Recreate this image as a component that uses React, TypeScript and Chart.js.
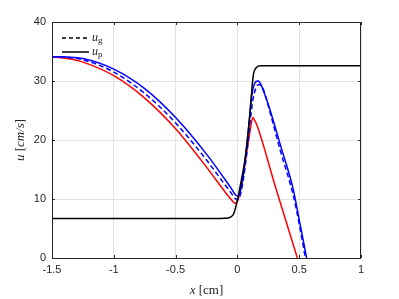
import React, { useEffect, useRef } from "react";
import { Chart, registerables } from "chart.js";
Chart.register(...registerables);

const xTicks = [-1.5, -1, -0.5, 0, 0.5, 1];
const yTicks = [0, 10, 20, 30, 40];

const redX = [-1.5, -1.375, -1.25, -1.0, -0.75, -0.5, -0.25, -0.1, -0.05, -0.02, 0.0, 0.04, 0.08, 0.11, 0.125, 0.14, 0.16, 0.3, 0.485];
const redY = [34.1, 33.8, 33.2, 30.9, 27.1, 21.9, 15.4, 11.2, 9.9, 9.3, 9.6, 13.2, 18.5, 22.5, 23.8, 23.3, 22.4, 12.6, 0];

const blueX = [-1.5, -1.375, -1.25, -1.0, -0.75, -0.5, -0.25, -0.1, -0.05, -0.02, 0.005, 0.02, 0.045, 0.075, 0.1, 0.115, 0.13, 0.15, 0.165, 0.18, 0.2, 0.25, 0.35, 0.45, 0.5, 0.56];
const blueY = [34.1, 34.05, 33.8, 32.0, 28.7, 23.8, 17.6, 13.3, 11.8, 10.8, 10.5, 11.0, 13.6, 18.9, 24.0, 27.3, 29.0, 29.9, 30.0, 29.8, 28.9, 26.0, 19.0, 11.8, 6.5, 0];

const dashX = [-1.5, -1.375, -1.25, -1.0, -0.75, -0.5, -0.25, -0.1, -0.05, -0.02, 0.005, 0.02, 0.05, 0.08, 0.105, 0.12, 0.135, 0.155, 0.175, 0.19, 0.21, 0.26, 0.35, 0.45, 0.5, 0.55];
const dashY = [34.1, 34.0, 33.6, 31.5, 27.9, 22.9, 16.6, 12.4, 11.0, 10.1, 9.9, 10.4, 13.6, 18.5, 23.5, 26.0, 27.8, 29.0, 29.4, 29.3, 28.6, 25.0, 18.0, 10.8, 5.8, 0];

const blackX = [-1.5, -0.3, -0.1, -0.06, -0.03, 0.0, 0.03, 0.06, 0.09, 0.115, 0.13, 0.15, 0.18, 0.25, 1.0];
const blackY = [6.7, 6.7, 6.75, 6.9, 7.5, 9.8, 13.0, 16.5, 22.0, 28.0, 31.2, 32.2, 32.6, 32.6, 32.6];

const legendLabels = ["g", "p"];

const pts = (xs: number[], ys: number[]) => xs.map((x, i) => ({ x, y: ys[i] }));

type Part = { text: string; font: string; dy?: number };

function drawRich(ctx: CanvasRenderingContext2D, parts: Part[], x: number, y: number, align: "left" | "center") {
  let total = 0;
  const widths = parts.map((p) => {
    ctx.font = p.font;
    const w = ctx.measureText(p.text).width;
    total += w;
    return w;
  });
  let cx = align === "center" ? x - total / 2 : x;
  parts.forEach((p, i) => {
    ctx.font = p.font;
    ctx.fillText(p.text, cx, y + (p.dy || 0));
    cx += widths[i];
  });
}

const decor = {
  id: "decor",
  afterDraw(chart: any) {
    const { ctx, chartArea: a, scales } = chart;
    const ink = "#262626";
    ctx.save();
    ctx.strokeStyle = ink;
    ctx.lineWidth = 1;
    ctx.beginPath();
    xTicks.forEach((v) => {
      const px = Math.round(scales.x.getPixelForValue(v)) + 0.5;
      ctx.moveTo(px, a.bottom);
      ctx.lineTo(px, a.bottom - 3);
      ctx.moveTo(px, a.top);
      ctx.lineTo(px, a.top + 3);
    });
    yTicks.forEach((v) => {
      const py = Math.round(scales.y.getPixelForValue(v)) + 0.5;
      ctx.moveTo(a.left, py);
      ctx.lineTo(a.left + 3, py);
      ctx.moveTo(a.right, py);
      ctx.lineTo(a.right - 3, py);
    });
    ctx.stroke();
    ctx.strokeRect(Math.round(a.left) + 0.5, Math.round(a.top) + 0.5, Math.round(a.right - a.left) - 1, Math.round(a.bottom - a.top));

    ctx.fillStyle = ink;
    ctx.textBaseline = "alphabetic";
    ctx.textAlign = "left";
    const it = "italic 13px 'Liberation Serif'";
    const up = "13px 'Liberation Serif'";
    drawRich(ctx, [{ text: "x", font: it }, { text: " [cm]", font: up }], (a.left + a.right) / 2, 294, "center");
    ctx.save();
    ctx.translate(24, (a.top + a.bottom) / 2);
    ctx.rotate(-Math.PI / 2);
    drawRich(ctx, [{ text: "u", font: it }, { text: " [", font: up }, { text: "cm/s", font: it }, { text: "]", font: up }], 0, 0, "center");
    ctx.restore();

    const ly = [38, 52];
    ly.forEach((yy, i) => {
      ctx.strokeStyle = "#000000";
      ctx.lineWidth = 1.5;
      ctx.setLineDash(i === 0 ? [4, 3] : []);
      ctx.beginPath();
      ctx.moveTo(62, yy);
      ctx.lineTo(89, yy);
      ctx.stroke();
      ctx.setLineDash([]);
      ctx.fillStyle = ink;
      drawRich(ctx, [{ text: "u", font: "italic 12px 'Liberation Serif'" }, { text: legendLabels[i], font: "9px 'Liberation Serif'", dy: 2 }], 92, yy + 3, "left");
    });
    ctx.restore();
  },
};

export default function App() {
  const ref = useRef<HTMLCanvasElement>(null);
  useEffect(() => {
    document.body.style.margin = "0";
    document.body.style.overflow = "hidden";
    const tickFont = { family: "'Liberation Sans', Arial, sans-serif", size: 11 };
    const common = { borderWidth: 1.5, pointRadius: 0, cubicInterpolationMode: "monotone" };
    const chart = new Chart(ref.current!, {
      type: "line",
      data: {
        datasets: [
          { data: pts(blackX, blackY), borderColor: "#000000", ...common },
          { data: pts(blueX, blueY), borderColor: "#0000ff", ...common },
          { data: pts(dashX, dashY), borderColor: "#0000ff", borderDash: [5, 3], ...common },
          { data: pts(redX, redY), borderColor: "#ff0000", ...common },
        ] as any,
      },
      options: {
        animation: false,
        responsive: false,
        devicePixelRatio: 1,
        layout: { padding: { top: 22, right: 38, left: 0, bottom: 0 } },
        plugins: { legend: { display: false }, tooltip: { enabled: false } },
        scales: {
          x: {
            type: "linear",
            min: -1.5,
            max: 1,
            afterBuildTicks: (s: any) => { s.ticks = xTicks.map((v) => ({ value: v })); },
            afterFit: (s: any) => { s.height = 41; },
            ticks: { font: tickFont, color: "#262626", padding: 5, maxRotation: 0, callback: (v: any) => String(v) },
            grid: { color: "#e3e3e3", drawTicks: false },
            border: { display: false },
          },
          y: {
            type: "linear",
            min: 0,
            max: 40,
            afterBuildTicks: (s: any) => { s.ticks = yTicks.map((v) => ({ value: v })); },
            afterFit: (s: any) => { s.width = 52; },
            ticks: { font: tickFont, color: "#262626", padding: 6, callback: (v: any) => String(v) },
            grid: { color: "#e3e3e3", drawTicks: false },
            border: { display: false },
          },
        },
      } as any,
      plugins: [decor],
    });
    return () => chart.destroy();
  }, []);
  return <canvas ref={ref} width={399} height={299} style={{ display: "block", width: 399, height: 299 }} />;
}
